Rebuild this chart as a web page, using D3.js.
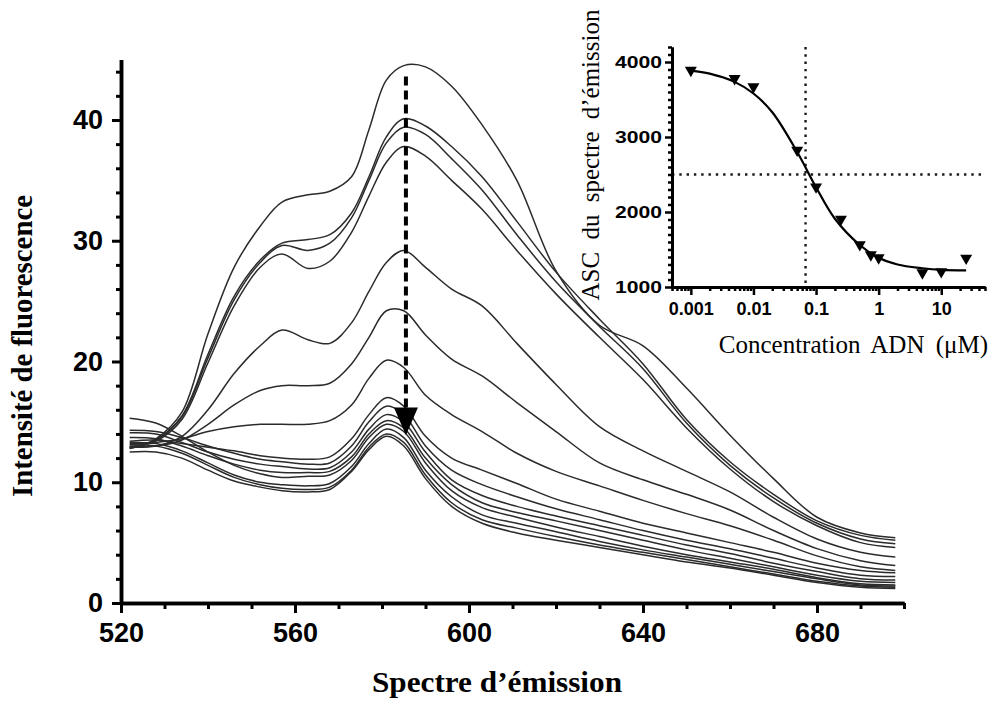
<!DOCTYPE html>
<html><head><meta charset="utf-8">
<script src="https://cdn.jsdelivr.net/npm/d3@7"></script>
<style>body{margin:0;background:#fff}svg{display:block}</style>
</head><body>
<svg id="c" width="990" height="702"></svg>
<script>
// ---------- Main chart data ----------
const wavelengths = [522,528,534,540,546,552,557,563,568,573,577,581,585,590,596,603,611,620,630,640,650,660,670,680,690,698];
const spectrum01 = [12.8,13.6,15.8,22.3,27.8,31.2,33.2,33.8,34.1,35.3,39.2,43.3,44.5,44.4,42.8,39.6,35.0,27.5,23.0,21.3,17.8,13.9,10.3,7.1,5.8,5.4];
const spectrum02 = [12.8,13.5,15.5,20.6,25.4,28.4,29.8,30.1,30.5,32.3,35.3,38.6,40.1,39.5,37.8,35.3,31.6,27.4,23.5,19.8,15.2,11.7,9.0,6.8,5.6,5.2];
const spectrum03 = [12.9,13.5,15.4,20.3,25.1,28.2,29.6,29.2,29.8,31.9,35.0,38.1,39.4,38.8,36.8,34.2,30.5,26.6,22.9,19.4,14.9,11.4,8.7,6.6,5.3,4.9];
const spectrum04 = [12.9,13.4,15.2,19.9,24.6,27.8,28.9,27.7,28.3,30.7,33.7,36.5,37.8,37.0,35.0,32.6,29.2,25.6,22.0,18.5,14.5,11.1,8.4,6.4,5.0,4.6];
const spectrum05 = [12.9,13.0,13.8,16.0,19.0,21.3,22.6,21.8,21.5,23.2,25.8,28.2,29.2,27.8,26.0,24.6,21.5,18.1,14.6,12.6,10.9,9.2,7.1,5.3,4.2,3.8];
const spectrum06 = [13.0,13.0,13.5,14.8,16.4,17.6,18.0,18.0,18.2,19.8,22.0,24.2,24.2,22.2,20.2,18.8,16.6,14.2,11.6,10.2,9.0,7.7,6.0,4.5,3.5,3.1];
const spectrum07 = [13.2,13.3,13.6,14.2,14.6,14.8,14.8,14.8,15.1,16.4,18.6,20.1,19.5,17.2,15.6,14.2,12.4,10.9,9.7,8.5,7.4,6.4,5.2,3.9,3.0,2.7];
const spectrum08 = [13.4,13.5,13.2,12.9,12.6,12.2,12.0,11.9,12.1,13.6,15.6,17.0,16.3,13.8,12.0,11.0,9.9,8.6,7.6,6.6,5.8,5.0,4.2,3.3,2.7,2.5];
const spectrum09 = [14.3,14.2,13.7,13.0,12.4,11.9,11.7,11.5,11.6,13.0,15.0,16.3,15.6,13.0,11.0,9.8,8.8,7.8,6.9,6.0,5.2,4.5,3.7,2.9,2.3,2.2];
const spectrum10 = [14.1,14.0,13.3,12.5,11.9,11.5,11.3,11.1,11.2,12.5,14.4,15.6,15.0,12.5,10.2,8.9,8.0,7.2,6.4,5.6,4.8,4.1,3.3,2.6,2.0,1.9];
const spectrum11 = [13.7,13.6,13.0,12.2,11.5,11.0,10.8,10.8,10.9,12.1,14.0,15.1,14.5,12.0,9.8,8.3,7.5,6.8,6.0,5.2,4.4,3.7,3.0,2.3,1.8,1.7];
const spectrum12 = [15.3,14.9,13.8,12.5,11.4,10.7,10.4,10.5,10.6,11.8,13.7,14.8,14.2,11.6,9.3,7.9,7.1,6.3,5.5,4.7,4.0,3.4,2.8,2.1,1.6,1.5];
const spectrum13 = [13.3,13.2,12.6,11.6,10.6,10.0,9.8,9.7,9.9,11.3,13.2,14.4,13.7,11.0,8.8,7.3,6.6,5.9,5.1,4.4,3.8,3.2,2.6,2.0,1.5,1.4];
const spectrum14 = [13.1,13.0,12.4,11.4,10.4,9.8,9.5,9.4,9.6,11.0,12.9,14.0,13.3,10.6,8.3,6.9,6.2,5.5,4.8,4.2,3.6,3.0,2.4,1.8,1.4,1.3];
const spectrum15 = [12.5,12.5,12.0,11.0,10.1,9.6,9.3,9.2,9.4,10.9,12.7,13.8,13.0,10.3,8.0,6.6,5.8,5.2,4.6,4.0,3.4,2.9,2.3,1.7,1.3,1.2];
const spectra = [spectrum01,spectrum02,spectrum03,spectrum04,spectrum05,spectrum06,spectrum07,spectrum08,
                 spectrum09,spectrum10,spectrum11,spectrum12,spectrum13,spectrum14,spectrum15];
const xTicksMain = [520,560,600,640,680];
const yTicksMain = [0,10,20,30,40];
const arrowWavelength = 585.5, arrowFrom = 43.6, arrowHeadBase = 16.2, arrowTip = 13.9;

// ---------- Inset data ----------
const concentrations = [0.001,0.005,0.01,0.05,0.1,0.25,0.5,0.75,1,5,10,25];
const ascValues      = [3890,3780,3670,2825,2335,1905,1565,1430,1390,1190,1205,1385];
const fitConcentrations = [0.001,0.002,0.005,0.01,0.02,0.05,0.1,0.2,0.5,1,2,5,10,25];
const fitValues         = [3885,3845,3735,3580,3330,2800,2330,1910,1560,1390,1300,1250,1228,1222];
const ic50 = 0.068, halfLevel = 2500;
const insetXTicks = [0.001,0.01,0.1,1,10];
const insetXLabels = ["0.001","0.01","0.1","1","10"];
const insetYTicks = [1000,2000,3000,4000];
const insetYLabels = ["1000","2000","3000","4000"];

const svg = d3.select("#c");
const SANS = "'Liberation Sans', Arial, sans-serif";
const SERIF = "'Liberation Serif', 'Times New Roman', serif";

// ---------- Main chart ----------
const x = d3.scaleLinear().domain([520,700]).range([121,904]);
const y = d3.scaleLinear().domain([0,45]).range([603,59.6]);

const line = d3.line().x(d=>x(d[0])).y(d=>y(d[1])).curve(d3.curveCatmullRom.alpha(0.5));
svg.append("g").selectAll("path").data(spectra).join("path")
  .attr("d", s => line(wavelengths.map((w,i)=>[w,s[i]])))
  .attr("fill","none").attr("stroke","#2b2b2b").attr("stroke-width",1.5);

// arrow
const ax = x(arrowWavelength);
svg.append("line").attr("x1",ax).attr("x2",ax).attr("y1",y(arrowFrom)).attr("y2",y(arrowHeadBase))
  .attr("stroke","#000").attr("stroke-width",4).attr("stroke-dasharray","9,5");
svg.append("path")
  .attr("d", d3.line()([[ax-12,y(arrowHeadBase)],[ax+12,y(arrowHeadBase)],[ax,y(arrowTip)]]) + "Z")
  .attr("fill","#000");

function styleAxis(g, w, tw, fs){
  g.select(".domain").attr("stroke","#000").attr("stroke-width",w);
  g.selectAll(".tick line").attr("stroke","#000").attr("stroke-width",tw);
  g.selectAll(".tick text").attr("fill","#000").attr("font-family",SANS).attr("font-weight","bold").attr("font-size",fs);
}

// y axis
const gyMin = svg.append("g").attr("transform","translate(121,0)")
  .call(d3.axisLeft(y).tickValues(d3.range(0,46,2).filter(v=>v%10!==0)).tickSize(5).tickSizeOuter(0).tickFormat(""));
styleAxis(gyMin,3.5,3,0);
const gy = svg.append("g").attr("transform","translate(121,0)")
  .call(d3.axisLeft(y).tickValues(yTicksMain).tickSize(9).tickPadding(9).tickSizeOuter(0));
styleAxis(gy,3.5,3,27);

// x axis
const gxMin = svg.append("g").attr("transform","translate(0,603)")
  .call(d3.axisBottom(x).tickValues(d3.range(520,701,10).filter(v=>(v-520)%40!==0)).tickSize(6).tickSizeOuter(0).tickFormat(""));
styleAxis(gxMin,3.5,3,0);
const gx = svg.append("g").attr("transform","translate(0,603)")
  .call(d3.axisBottom(x).tickValues(xTicksMain).tickSize(10).tickPadding(10).tickSizeOuter(0));
styleAxis(gx,3.5,3,27);

// main axis titles
svg.append("text").text("Spectre d’émission")
  .attr("x",497).attr("y",692).attr("text-anchor","middle")
  .attr("font-family",SERIF).attr("font-weight","bold").attr("font-size",30)
  .attr("textLength",250).attr("lengthAdjust","spacingAndGlyphs");
svg.append("text").text("Intensité de fluorescence")
  .attr("transform","translate(32,346) rotate(-90)").attr("text-anchor","middle")
  .attr("font-family",SERIF).attr("font-weight","bold").attr("font-size",30)
  .attr("textLength",302).attr("lengthAdjust","spacingAndGlyphs");

// ---------- Inset ----------
const xi = d3.scaleLog().domain([0.0005,50]).range([672,985]);
const yi = d3.scaleLinear().domain([1000,4200]).range([287,47]);

const dot = {stroke:"#1a1a1a", w:2.4, dash:"2.4,4.9"};
svg.append("line").attr("x1",xi(0.0005)).attr("x2",xi(50)).attr("y1",yi(halfLevel)).attr("y2",yi(halfLevel))
  .attr("stroke",dot.stroke).attr("stroke-width",dot.w).attr("stroke-dasharray",dot.dash);
svg.append("line").attr("x1",xi(ic50)).attr("x2",xi(ic50)).attr("y1",yi(4200)).attr("y2",yi(1000))
  .attr("stroke",dot.stroke).attr("stroke-width",dot.w).attr("stroke-dasharray",dot.dash);

const fitLine = d3.line().x(d=>xi(d)).y((d,i)=>yi(fitValues[i])).curve(d3.curveCatmullRom.alpha(0.5));
svg.append("path").attr("d",fitLine(fitConcentrations)).attr("fill","none").attr("stroke","#000").attr("stroke-width",2.2);

svg.append("g").selectAll("path").data(concentrations).join("path")
  .attr("d", d3.symbol(d3.symbolTriangle, 62))
  .attr("transform",(d,i)=>`translate(${xi(d)},${yi(ascValues[i])}) rotate(180)`)
  .attr("fill","#000");

// inset axes
const minorLog = [];
for (let e=-4; e<=1; e++) for (let m=2; m<=9; m++){ const v=m*Math.pow(10,e); if(v>=0.0005 && v<=50) minorLog.push(v); }
const gxiMin = svg.append("g").attr("transform","translate(0,287)")
  .call(d3.axisBottom(xi).tickValues(minorLog).tickSize(4).tickSizeOuter(0).tickFormat(""));
styleAxis(gxiMin,3,2.5,0);
const gxi = svg.append("g").attr("transform","translate(0,287)")
  .call(d3.axisBottom(xi).tickValues(insetXTicks).tickSize(8).tickPadding(7).tickSizeOuter(0)
        .tickFormat((d,i)=>insetXLabels[i]));
styleAxis(gxi,3,2.5,18);

const gyiMin = svg.append("g").attr("transform","translate(672,0)")
  .call(d3.axisLeft(yi).tickValues(d3.range(1100,4201,100).filter(v=>v%1000!==0)).tickSize(4).tickSizeOuter(0).tickFormat(""));
styleAxis(gyiMin,3,2.5,0);
const gyi = svg.append("g").attr("transform","translate(672,0)")
  .call(d3.axisLeft(yi).tickValues(insetYTicks).tickSize(7).tickPadding(3).tickSizeOuter(0)
        .tickFormat((d,i)=>insetYLabels[i]));
styleAxis(gyi,3,2.5,17);
gyi.selectAll(".tick text").attr("textLength",47).attr("lengthAdjust","spacingAndGlyphs");

svg.append("text").text("Concentration ADN (μM)")
  .attr("x",988).attr("y",353).attr("text-anchor","end")
  .attr("font-family",SERIF).attr("font-size",25).attr("word-spacing",5).attr("fill","#000");
svg.append("text").text("ASC du spectre d’émission")
  .attr("transform","translate(599,155) rotate(-90)").attr("text-anchor","middle")
  .attr("font-family",SERIF).attr("font-size",25).attr("word-spacing",6).attr("fill","#000");
</script>
</body></html>
